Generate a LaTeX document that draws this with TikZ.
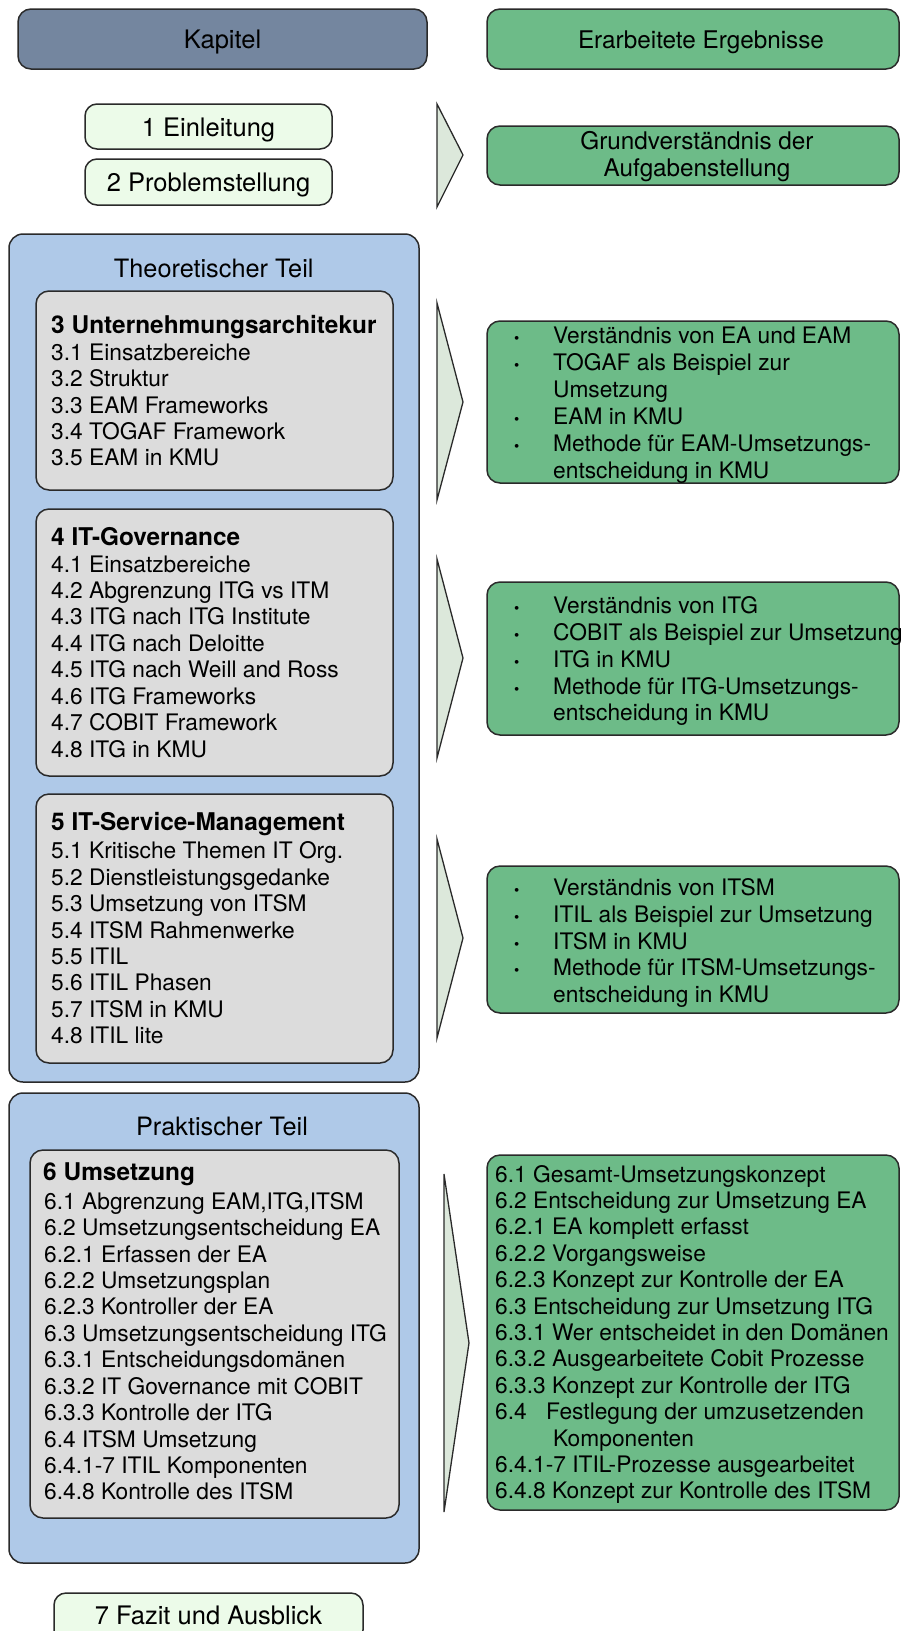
\documentclass[tikz,border=0pt]{standalone}
\usepackage{fontspec}
\setmainfont{TeX Gyre Heros}
\definecolor{kapc}{HTML}{74869F}
\definecolor{ergc}{HTML}{6DBB88}
\definecolor{chapc}{HTML}{ECFBE9}
\definecolor{partc}{HTML}{AFC9E8}
\definecolor{secc}{HTML}{DCDCDC}
\definecolor{arrc}{HTML}{DCE8DB}
\definecolor{linec}{HTML}{2A2A2A}
\tikzset{
  box/.style={draw=linec, line width=1.5pt, rounded corners=13pt, inner sep=0pt, outer sep=0pt},
  hdr/.style={font=\fontsize{#1}{#1}\selectfont, inner sep=0pt, anchor=base},
  hdr/.default=25,
  body/.style={font=\fontsize{22.75}{26}\selectfont, inner sep=0pt, anchor=base west},
  ttl/.style={font=\fontsize{24.4}{28}\selectfont\bfseries, inner sep=0pt, anchor=base west},
  bul/.style={font=\fontsize{15}{15}\selectfont, inner sep=0pt, anchor=base west},
  arrowshape/.style={draw=linec, line width=1.3pt, fill=arrc, line join=miter},
}
\begin{document}
\begin{tikzpicture}[x=1pt,y=-1pt]
\useasboundingbox (0,0) rectangle (901,1631);
\clip (0,0) rectangle (901,1631);

% ---------- header row
\node[box, fill=kapc, minimum width=409pt, minimum height=60pt] (kap) at (222.5,39) {};
\node[hdr=25.5] (kapt) at (222.5,48) {Kapitel};
\node[box, fill=ergc, minimum width=412pt, minimum height=60pt] (erg) at (693,39) {};
\node[hdr=24.3] (ergt) at (701,48) {Erarbeitete Ergebnisse};

% ---------- chapters 1, 2
\node[box, fill=chapc, rounded corners=12pt, minimum width=247pt, minimum height=45pt] (ein) at (208.5,126.5) {};
\node[hdr=25.5] (eint) at (208.5,136) {1 Einleitung};
\node[box, fill=chapc, rounded corners=12pt, minimum width=247pt, minimum height=46pt] (prob) at (208.5,182) {};
\node[hdr=25.5] (probt) at (208.5,191.5) {2 Problemstellung};
\draw[arrowshape] (437,104) -- (463,155) -- (437,207) -- cycle;
\node[box, fill=ergc, minimum width=412pt, minimum height=59pt] (grund) at (693,155.5) {};
\node[hdr=24.3] (grund1) at (697,149) {Grundverständnis der};
\node[hdr=24.3] (grund2) at (697,176) {Aufgabenstellung};

% ---------- theoretical part
\node[box, fill=partc, rounded corners=14pt, minimum width=410pt, minimum height=848pt] (theo) at (214,658) {};
\node[hdr=25.3] (theot) at (213.7,277) {Theoretischer Teil};

\node[box, fill=secc, minimum width=357pt, minimum height=199pt] (b3) at (214.5,390.5) {};
\node[ttl] (b3t) at (51,333) {3 Unternehmungsarchitekur};
\foreach \t [count=\i from 0] in {3.1 Einsatzbereiche,3.2 Struktur,3.3 EAM Frameworks,3.4 TOGAF Framework,3.5 EAM in KMU}
  \node[body] (b3l\i) at (51,{360.3+26.4*\i}) {\t};

\node[box, fill=secc, minimum width=357pt, minimum height=267pt] (b4) at (214.5,642.5) {};
\node[ttl] (b4t) at (51,545.5) {4 IT-Governance};
\foreach \t [count=\i from 0] in {4.1 Einsatzbereiche,4.2 Abgrenzung ITG vs ITM,4.3 ITG nach ITG Institute,4.4 ITG nach Deloitte,4.5 ITG nach Weill and Ross,4.6 ITG Frameworks,4.7 COBIT Framework,4.8 ITG in KMU}
  \node[body] (b4l\i) at (51,{572+26.43*\i}) {\t};

\node[box, fill=secc, minimum width=357pt, minimum height=269pt] (b5) at (214.5,928.5) {};
\node[ttl] (b5t) at (51,830.5) {5 IT-Service-Management};
\foreach \t [count=\i from 0] in {5.1 Kritische Themen IT Org.,5.2 Dienstleistungsgedanke,5.3 Umsetzung von ITSM,5.4 ITSM Rahmenwerke,5.5 ITIL,5.6 ITIL Phasen,5.7 ITSM in KMU,4.8 ITIL lite}
  \node[body] (b5l\i) at (51,{858.7+26.43*\i}) {\t};

% ---------- results for theoretical part
\draw[arrowshape] (437,303) -- (463,402) -- (437,500) -- cycle;
\node[box, fill=ergc, minimum width=412pt, minimum height=162pt] (r2) at (693,402) {};
\foreach \b/\t [count=\i from 0] in {1/Verständnis von EA und EAM,1/TOGAF als Beispiel zur,0/Umsetzung,1/EAM in KMU,1/Methode für EAM-Umsetzungs-,0/entscheidung in KMU}{
  \ifnum\b=1 \node[bul] (r2b\i) at (514,{343.7+27*\i}) {•};\fi
  \node[body] (r2l\i) at (553,{343.7+27*\i}) {\t};
}

\draw[arrowshape] (437,559) -- (463,658) -- (437,758) -- cycle;
\node[box, fill=ergc, minimum width=412pt, minimum height=153pt] (r3) at (693,658.5) {};
\foreach \b/\t [count=\i from 0] in {1/Verständnis von ITG,1/COBIT als Beispiel zur Umsetzung,1/ITG in KMU,1/Methode für ITG-Umsetzungs-,0/entscheidung in KMU}{
  \ifnum\b=1 \node[bul] (r3b\i) at (514,{613.7+26.8*\i}) {•};\fi
  \node[body] (r3l\i) at (553,{613.7+26.8*\i}) {\t};
}

\draw[arrowshape] (437,839) -- (463,938) -- (437,1038) -- cycle;
\node[box, fill=ergc, minimum width=412pt, minimum height=147pt] (r4) at (693,939.5) {};
\foreach \b/\t [count=\i from 0] in {1/Verständnis von ITSM,1/ITIL als Beispiel zur Umsetzung,1/ITSM in KMU,1/Methode für ITSM-Umsetzungs-,0/entscheidung in KMU}{
  \ifnum\b=1 \node[bul] (r4b\i) at (514,{895.3+26.85*\i}) {•};\fi
  \node[body] (r4l\i) at (553,{895.3+26.85*\i}) {\t};
}

% ---------- practical part
\node[box, fill=partc, rounded corners=14pt, minimum width=410pt, minimum height=470pt] (prak) at (214,1328) {};
\node[hdr=25.3] (prakt) at (222,1135) {Praktischer Teil};
\node[box, fill=secc, minimum width=369pt, minimum height=368pt] (b6) at (214.5,1334) {};
\node[ttl] (b6t) at (43,1180) {6 Umsetzung};
\foreach \t [count=\i from 0] in {{6.1 Abgrenzung EAM,ITG,ITSM},6.2 Umsetzungsentscheidung EA,6.2.1 Erfassen der EA,6.2.2 Umsetzungsplan,6.2.3 Kontroller der EA,6.3 Umsetzungsentscheidung ITG,6.3.1 Entscheidungsdomänen,6.3.2 IT Governance mit COBIT,6.3.3 Kontrolle der ITG,6.4 ITSM Umsetzung,6.4.1-7 ITIL Komponenten,6.4.8 Kontrolle des ITSM}
  \node[body] (b6l\i) at (44,{1209.3+26.42*\i}) {\t};

\draw[arrowshape] (444,1174) -- (469,1343) -- (444,1512) -- cycle;
\node[box, fill=ergc, minimum width=412pt, minimum height=355pt] (r5) at (693,1332.5) {};
\foreach \t [count=\i from 0] in {6.1 Gesamt-Umsetzungskonzept,6.2 Entscheidung zur Umsetzung EA,6.2.1 EA komplett erfasst,6.2.2 Vorgangsweise,6.2.3 Konzept zur Kontrolle der EA,6.3 Entscheidung zur Umsetzung ITG,6.3.1 Wer entscheidet in den Domänen,6.3.2 Ausgearbeitete Cobit Prozesse,6.3.3 Konzept zur Kontrolle der ITG}
  \node[body] (r5l\i) at (495,{1182+26.4*\i}) {\t};
\node[body] (r5l9) at (495,{1182+26.4*9}) {6.4};
\node[body] (r5l9b) at (546,{1182+26.4*9}) {Festlegung der umzusetzenden};
\node[body] (r5l10) at (553,{1182+26.4*10}) {Komponenten};
\node[body] (r5l11) at (495,{1182+26.4*11}) {6.4.1-7 ITIL-Prozesse ausgearbeitet};
\node[body] (r5l12) at (495,{1182+26.4*12}) {6.4.8 Konzept zur Kontrolle des ITSM};

% ---------- chapter 7
\node[box, fill=chapc, rounded corners=12pt, minimum width=309pt, minimum height=49pt] (fazit) at (208.5,1617.5) {};
\node[hdr=25.5] (fazitt) at (208.5,1624) {7 Fazit und Ausblick};
\end{tikzpicture}
\end{document}
